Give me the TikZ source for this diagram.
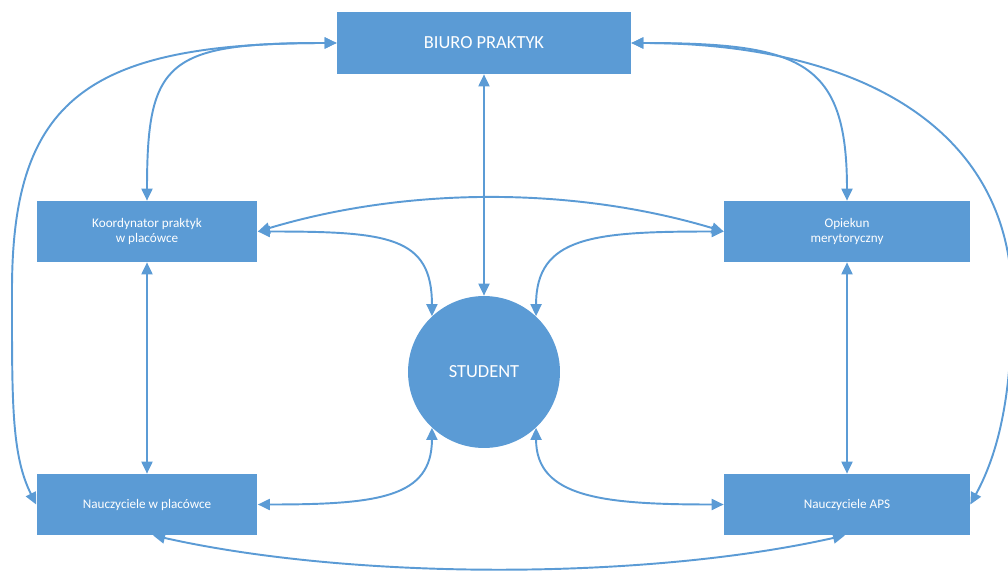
\documentclass[tikz,border=0pt]{standalone}
\usepackage{fontspec}
\setmainfont{Carlito}
\usepackage{xcolor}
\usetikzlibrary{arrows.meta,positioning,calc}
\definecolor{niebieski}{HTML}{5B9BD5}

\begin{document}
\begin{tikzpicture}[x=0.02cm, y=-0.02cm,
  box/.style={fill=niebieski, minimum height=1.22cm, align=center, text=white,
              font=\fontsize{7.5}{9}\selectfont},
  arr/.style={{Triangle[length=2.4mm,width=2.2mm]}-{Triangle[length=2.4mm,width=2.2mm]},
              line width=1.1pt, draw=niebieski}]
\useasboundingbox (0,0) rectangle (1008,571);
\node[box, minimum width=5.88cm, minimum height=1.24cm, font=\fontsize{10.5}{12}\selectfont] (biuro) at (484,43) {BIURO PRAKTYK};
\node[box, minimum width=4.42cm] (koord) at (147,231.5) {Koordynator praktyk\\w placówce};
\node[box, minimum width=4.92cm] (opiek) at (847,231.5) {Opiekun\\merytoryczny};
\node[box, minimum width=4.42cm] (nauczw) at (147,504.5) {Nauczyciele w placówce};
\node[box, minimum width=4.92cm] (nauczaps) at (847,504.5) {Nauczyciele APS};
\node[circle, fill=niebieski, minimum size=3.04cm, text=white, font=\fontsize{10.5}{12}\selectfont] (student) at (484,372) {STUDENT};
\coordinate (lewy) at (12,290);
\coordinate (prawy) at (1012,300);

% proste polaczenia
\foreach \i/\j in {biuro.south/student.north,koord.south/nauczw.north,opiek.south/nauczaps.north} \draw[arr] (\i)--(\j);

% biuro praktyk
\draw[arr] (biuro.west) .. controls +(-170,0) and +(0,-140) .. (koord.north);
\draw[arr] (biuro.east) .. controls +(170,0) and +(0,-140) .. (opiek.north);
\draw[arr] (biuro.west) .. controls +(-250,0) and +(0,-190) .. (lewy) .. controls +(0,110) and +(-25,-50) .. (nauczw.west);
\draw[arr] (biuro.east) .. controls +(230,0) and +(0,-170) .. (prawy) .. controls +(0,90) and +(30,-55) .. (nauczaps.east);

% student
\draw[arr] (koord.east) .. controls +(130,0) and +(0,-80) .. (student.133);
\draw[arr] (opiek.west) .. controls +(-130,0) and +(0,-80) .. (student.47);
\draw[arr] (nauczw.east) .. controls +(120,0) and +(0,70) .. (student.227);
\draw[arr] (nauczaps.west) .. controls +(-120,0) and +(0,70) .. (student.-47);

% luki
\draw[arr] (koord.east) .. controls +(150,-45) and +(-150,-45) .. (opiek.west);
\draw[arr] ([xshift=0.12cm]nauczw.south) .. controls +(200,45) and +(-200,45) .. ([xshift=-0.04cm]nauczaps.south);
\end{tikzpicture}
\end{document}
